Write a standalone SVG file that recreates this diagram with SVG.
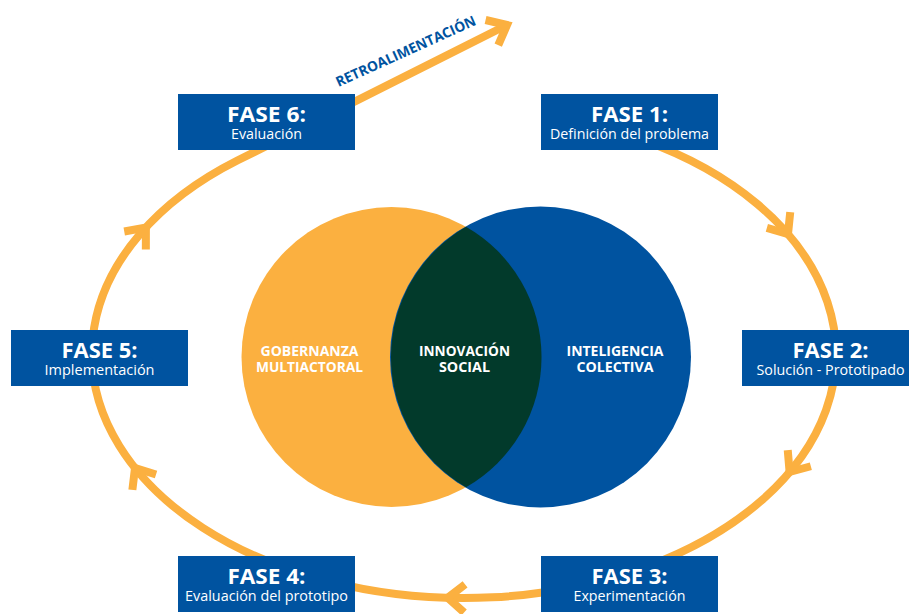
<svg xmlns="http://www.w3.org/2000/svg" xmlns:xlink="http://www.w3.org/1999/xlink" width="909" height="614" viewBox="0 0 909 614">
<style>
.loop{fill:none;stroke:#FBB040;stroke-width:8;stroke-linejoin:miter;stroke-linecap:butt}
.box{fill:#0053A0}
.t{font-family:"Open Sans","Liberation Sans",sans-serif;fill:#fff;text-anchor:middle}
.ti{font-size:21px;font-weight:700}
.st{font-size:15px;font-weight:400}
.vt{font-size:15px;font-weight:700}
.retro{font-family:"Open Sans","Liberation Sans",sans-serif;font-size:14px;font-weight:700;fill:#0053A0}
</style>
<defs>
<path id="chev" d="M -16.9,-14.1 L 0,0 L -16.9,14.1"/>
</defs>
<rect width="909" height="614" fill="#fff"/>

<g id="venn">
<g id="gobernanza">
<circle cx="391.5" cy="357" r="150" fill="#FBB040"/>
</g>
<g id="inteligencia">
<circle cx="540.5" cy="357" r="150.5" fill="#0053A0"/>
</g>
<g id="innovacion">
<path d="M 466,226.8 A 150 150 0 0 1 466,487.2 A 150.5 150.5 0 0 1 466,226.8 Z" fill="#023A2B"/>
</g>
<text class="t vt" x="309.5" y="356" textLength="98" lengthAdjust="spacingAndGlyphs">GOBERNANZA</text>
<text class="t vt" x="309.5" y="372" textLength="107" lengthAdjust="spacingAndGlyphs">MULTIACTORAL</text>
<text class="t vt" x="464.5" y="356" textLength="91" lengthAdjust="spacingAndGlyphs">INNOVACIÓN</text>
<text class="t vt" x="464.5" y="372" textLength="51" lengthAdjust="spacingAndGlyphs">SOCIAL</text>
<text class="t vt" x="615" y="356" textLength="97" lengthAdjust="spacingAndGlyphs">INTELIGENCIA</text>
<text class="t vt" x="615" y="372" textLength="77" lengthAdjust="spacingAndGlyphs">COLECTIVA</text>
</g>

<g id="connectors">
<path class="loop" d="M 642.6,140 A 372 244 0 1 1 237.8,160.3 L 507,25"/>
<use xlink:href="#chev" href="#chev" class="loop" transform="translate(788,234) rotate(56)"/>
<use xlink:href="#chev" href="#chev" class="loop" transform="translate(789.6,472) rotate(125)"/>
<use xlink:href="#chev" href="#chev" class="loop" transform="translate(447.7,597.8) rotate(182)"/>
<use xlink:href="#chev" href="#chev" class="loop" transform="translate(135,468) rotate(237)"/>
<use xlink:href="#chev" href="#chev" class="loop" transform="translate(145.9,227.6) rotate(310)"/>
<use xlink:href="#chev" href="#chev" class="loop" transform="translate(507,25) rotate(-26.7)"/>
<text class="retro" transform="translate(338.5,87) rotate(-24.3)" x="0" y="0" textLength="152" lengthAdjust="spacingAndGlyphs">RETROALIMENTACIÓN</text>
</g>

<g id="fase1">
<rect class="box" x="541" y="94" width="177" height="56"/>
<text class="t ti" x="629.5" y="122" textLength="77" lengthAdjust="spacingAndGlyphs">FASE 1:</text>
<text class="t st" x="629.5" y="138.5" textLength="159" lengthAdjust="spacingAndGlyphs">Definición del problema</text>
</g>
<g id="fase2">
<rect class="box" x="742" y="330" width="167" height="56"/>
<text class="t ti" x="830.5" y="357.5" textLength="76" lengthAdjust="spacingAndGlyphs">FASE 2:</text>
<text class="t st" x="830.5" y="374.5" textLength="148" lengthAdjust="spacingAndGlyphs">Solución - Prototipado</text>
</g>
<g id="fase3">
<rect class="box" x="541" y="556" width="177" height="56"/>
<text class="t ti" x="629.5" y="584" textLength="76" lengthAdjust="spacingAndGlyphs">FASE 3:</text>
<text class="t st" x="629.5" y="600.5" textLength="112" lengthAdjust="spacingAndGlyphs">Experimentación</text>
</g>
<g id="fase4">
<rect class="box" x="178" y="556" width="177" height="56"/>
<text class="t ti" x="266.5" y="584" textLength="78" lengthAdjust="spacingAndGlyphs">FASE 4:</text>
<text class="t st" x="266.5" y="600.5" textLength="163" lengthAdjust="spacingAndGlyphs">Evaluación del prototipo</text>
</g>
<g id="fase5">
<rect class="box" x="11" y="330" width="177" height="56"/>
<text class="t ti" x="99.5" y="358" textLength="76" lengthAdjust="spacingAndGlyphs">FASE 5:</text>
<text class="t st" x="99.5" y="374.5" textLength="110" lengthAdjust="spacingAndGlyphs">Implementación</text>
</g>
<g id="fase6">
<rect class="box" x="178" y="94" width="177" height="56"/>
<text class="t ti" x="266.5" y="122" textLength="79" lengthAdjust="spacingAndGlyphs">FASE 6:</text>
<text class="t st" x="266.5" y="138.5" textLength="71" lengthAdjust="spacingAndGlyphs">Evaluación</text>
</g>
</svg>
